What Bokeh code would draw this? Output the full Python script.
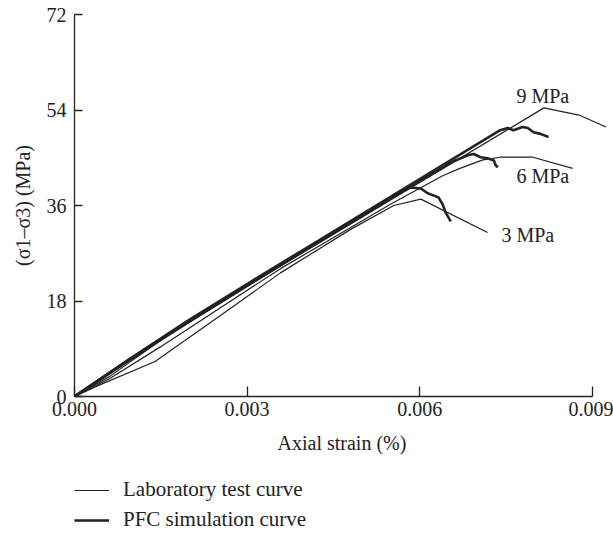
from bokeh.plotting import figure
from bokeh.layouts import column
from bokeh.models import Range1d, FixedTicker, NumeralTickFormatter, Legend, LegendItem, ColumnDataSource
from bokeh.core.properties import value
from bokeh.embed import file_html
from bokeh.resources import INLINE

# Laboratory test curves (strain, stress MPa)
lab3_x = [0.0, 0.0004, 0.0014, 0.0025, 0.00358, 0.0048, 0.00555, 0.00602, 0.00718]
lab3_y = [0.0, 2.0, 6.6, 15.0, 23.3, 31.5, 36.0, 37.2, 30.9]
lab6_x = [0.0, 0.0006, 0.0015, 0.00358, 0.0055, 0.0064, 0.0067, 0.0071, 0.0074, 0.00797, 0.00866]
lab6_y = [0.0, 3.3, 9.4, 24.1, 36.3, 41.6, 43.0, 44.6, 45.1, 45.1, 43.0]
lab9_x = [0.0, 0.0006, 0.0015, 0.00358, 0.00816, 0.00877, 0.00924]
lab9_y = [0.0, 3.7, 10.6, 24.6, 54.4, 53.05, 50.8]

# PFC simulation curves
pfc3_x = [0.0, 0.0005, 0.001, 0.002, 0.003, 0.004, 0.005, 0.0057, 0.00584, 0.00602, 0.00614, 0.00624, 0.00633, 0.0064, 0.00645, 0.00654]
pfc3_y = [0.0, 3.6, 7.2, 14.2, 20.9, 27.5, 34.0, 38.6, 39.4, 39.2, 38.3, 37.9, 37.5, 36.2, 34.7, 33.0]
pfc6_x = [0.0, 0.0005, 0.001, 0.002, 0.003, 0.004, 0.005, 0.0066, 0.00685, 0.00694, 0.00706, 0.00718, 0.00729, 0.00732, 0.00736]
pfc6_y = [0.0, 3.6, 7.3, 14.3, 21.0, 27.6, 34.2, 44.4, 45.5, 45.7, 45.1, 44.9, 44.5, 43.6, 43.2]
pfc9_x = [0.0, 0.0005, 0.001, 0.002, 0.003, 0.004, 0.005, 0.0074, 0.00753, 0.00763, 0.00779, 0.00788, 0.00798, 0.0081, 0.00824]
pfc9_y = [0.0, 3.7, 7.4, 14.5, 21.2, 27.8, 34.4, 50.2, 50.6, 50.2, 50.8, 50.6, 49.8, 49.5, 48.9]

label_text = ["9 MPa", "6 MPa", "3 MPa"]
label_x = [0.00814, 0.00814, 0.00788]
label_y = [56.7, 41.6, 30.4]

x_ticks = [0.0, 0.003, 0.006, 0.009]
y_ticks = [0, 18, 36, 54, 72]

legend_labels = ["Laboratory test curve", "PFC simulation curve"]

FONT = "Liberation Serif"
INK = "#222222"
LAB_W = 1.2
PFC_W = 2.6

p = figure(width=613, height=460, output_backend="svg", toolbar_location=None,
           x_range=Range1d(0, 0.0093), y_range=Range1d(0, 72),
           min_border_left=74, min_border_right=4, min_border_top=14, min_border_bottom=64)
p.outline_line_color = None
p.grid.visible = False

for ax, ticks in ((p.xaxis[0], x_ticks), (p.yaxis[0], y_ticks)):
    ax.ticker = FixedTicker(ticks=ticks)
    ax.minor_tick_line_color = None
    ax.major_tick_out = 0
    ax.axis_line_color = INK
    ax.major_tick_line_color = INK
    ax.axis_line_width = 1.3
    ax.major_tick_line_width = 1.3
    ax.major_label_text_font = FONT
    ax.major_label_text_font_size = "20px"
    ax.major_label_text_color = INK
    ax.axis_label_text_font = FONT
    ax.axis_label_text_font_size = "20px"
    ax.axis_label_text_font_style = "normal"
    ax.axis_label_text_color = INK

p.xaxis[0].bounds = (0, 0.009)
p.xaxis[0].major_tick_in = 10
p.xaxis[0].formatter = NumeralTickFormatter(format="0.000")
p.xaxis[0].axis_label = "Axial strain (%)"
p.xaxis[0].major_label_standoff = 5
p.xaxis[0].axis_label_standoff = 13
p.yaxis[0].major_tick_in = 8
p.yaxis[0].axis_label = "(σ1–σ3) (MPa)"
p.yaxis[0].major_label_standoff = 8
p.yaxis[0].axis_label_standoff = 10

for xs, ys in ((lab3_x, lab3_y), (lab6_x, lab6_y), (lab9_x, lab9_y)):
    p.line(xs, ys, line_color=INK, line_width=LAB_W)
for xs, ys in ((pfc3_x, pfc3_y), (pfc6_x, pfc6_y), (pfc9_x, pfc9_y)):
    p.line(xs, ys, line_color=INK, line_width=PFC_W, line_join="round")

src = ColumnDataSource(dict(x=label_x, y=label_y, t=label_text))
p.text("x", "y", text="t", source=src, text_font=value(FONT), text_font_size="20px",
       text_color=INK, text_align="center", text_baseline="middle")

# Legend strip below the chart (proxy lines lie outside the visible range)
lg = figure(width=613, height=77, output_backend="svg", toolbar_location=None,
            x_range=Range1d(0, 1), y_range=Range1d(0, 1),
            min_border_left=0, min_border_right=0, min_border_top=0, min_border_bottom=0)
lg.axis.visible = False
lg.grid.visible = False
lg.outline_line_color = None
r_lab = lg.line([5, 6], [5, 6], line_color=INK, line_width=LAB_W)
r_pfc = lg.line([5, 6], [5, 6], line_color=INK, line_width=PFC_W)
legend = Legend(items=[LegendItem(label=legend_labels[0], renderers=[r_lab]),
                       LegendItem(label=legend_labels[1], renderers=[r_pfc])],
                location=(0, 5), orientation="vertical",
                glyph_width=35, glyph_height=20, label_height=20, spacing=5,
                label_standoff=14, padding=0, margin=0,
                border_line_color=None, background_fill_alpha=0,
                label_text_font=FONT, label_text_font_size="21px", label_text_color=INK)
lg.add_layout(legend, "center")

layout = column(p, lg, spacing=0)
open("out.html", "w").write(file_html(layout, INLINE))
